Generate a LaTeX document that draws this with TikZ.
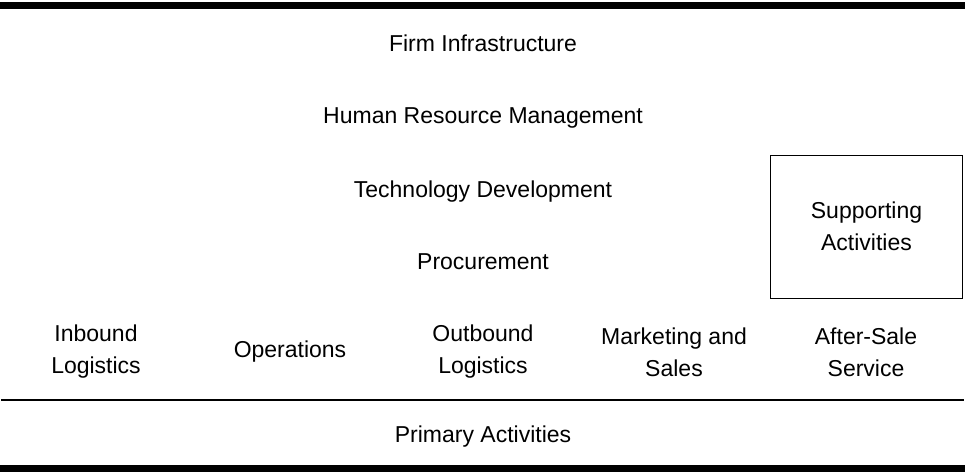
\documentclass[tikz,border=0pt]{standalone}
\usepackage{fontspec}
\setmainfont{Liberation Sans}
\begin{document}
\begin{tikzpicture}[x=1pt,y=-1pt,
  lbl/.style={font=\fontsize{23}{32}\selectfont, align=center, inner sep=0pt},
  thick rule/.style={line width=7pt},
  thin rule/.style={line width=1.3pt}]
\useasboundingbox (0,0) rectangle (965,475);
\coordinate (tl) at (0,5.5);
\coordinate (tr) at (965,5.5);
\coordinate (ml) at (1,400);
\coordinate (mr) at (964,400);
\coordinate (bl) at (0,468.5);
\coordinate (br) at (965,468.5);
\draw[thick rule] (tl) -- (tr);
\draw[thin rule] (ml) -- (mr);
\draw[thick rule] (bl) -- (br);
\node[lbl] (fi) at (483,43) {Firm Infrastructure};
\node[lbl] (hrm) at (483,118) {Human Resource Management};
\node[lbl] (td) at (483,192) {Technology Development};
\node[lbl] (pr) at (483,262) {Procurement};
\node[draw, line width=1pt, minimum width=192pt, minimum height=143pt, inner sep=0pt] (box) at (866.5,226.5) {};
\node[lbl] (sa) at (box.center) {Supporting\\Activities};
\node[lbl] (il) at (96,352) {Inbound\\Logistics};
\node[lbl] (op) at (290,352) {Operations};
\node[lbl] (ol) at (483,352) {Outbound\\Logistics};
\node[lbl] (ms) at (674,352) {Marketing and\\Sales};
\node[lbl] (as) at (866,352) {After-Sale\\Service};
\node[lbl] (pa) at (483,437) {Primary Activities};
\end{tikzpicture}
\end{document}
